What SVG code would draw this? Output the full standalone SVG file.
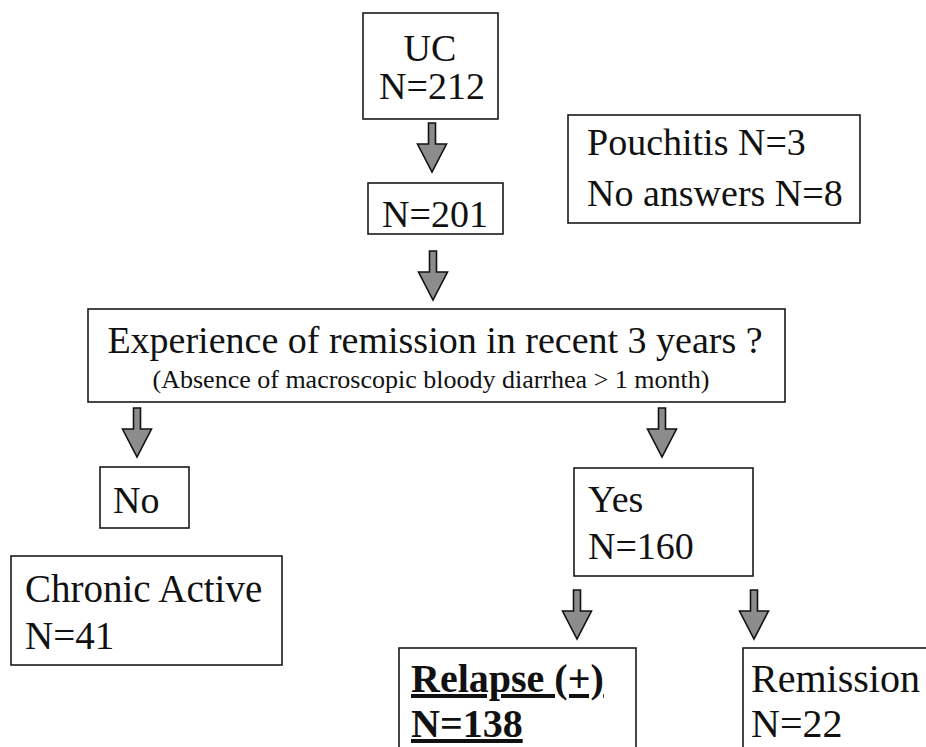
<svg xmlns="http://www.w3.org/2000/svg" width="926" height="747" viewBox="0 0 926 747">
<defs>
<style>
.box{fill:#fff;stroke:#1a1a1a;stroke-width:1.6}
.t{font-family:"Liberation Serif","Times New Roman",serif;font-size:38px;fill:#111}
.s{font-family:"Liberation Serif","Times New Roman",serif;font-size:26px;fill:#111}
.b{font-family:"Liberation Serif","Times New Roman",serif;font-size:40px;font-weight:bold;fill:#111;text-decoration:underline}
.arr{fill:#8c8c8c;stroke:#111;stroke-width:1.6;stroke-linejoin:miter}
</style>
<path id="blockArrow" class="arr" d="M-3.5,0 H3.5 V21 H14.5 L0,49 L-14.5,21 H-3.5 Z"/>
</defs>
<rect width="926" height="747" fill="#fff"/>

<g id="connectors">
<use href="#blockArrow" x="432" y="123"/>
<use href="#blockArrow" x="433" y="251"/>
<use href="#blockArrow" x="137" y="408"/>
<use href="#blockArrow" x="662" y="408"/>
<use href="#blockArrow" x="577" y="590"/>
<use href="#blockArrow" x="754" y="590"/>
</g>

<g id="node-uc">
<rect class="box" x="363" y="13" width="135" height="106"/>
<text class="t" x="430" y="61" text-anchor="middle">UC</text>
<text class="t" x="432" y="99" text-anchor="middle">N=212</text>
</g>

<g id="node-excluded">
<rect class="box" x="568" y="115" width="292" height="108"/>
<text class="t" x="587" y="155">Pouchitis N=3</text>
<text class="t" x="587" y="206">No answers N=8</text>
</g>

<g id="node-n201">
<rect class="box" x="368" y="183" width="135" height="51"/>
<text class="t" x="435" y="227" text-anchor="middle">N=201</text>
</g>

<g id="node-question">
<rect class="box" x="88" y="309" width="697" height="93"/>
<text class="t" x="435" y="353" text-anchor="middle">Experience of remission in recent 3 years ?</text>
<text class="s" x="431" y="388" text-anchor="middle">(Absence of macroscopic bloody diarrhea &gt; 1 month)</text>
</g>

<g id="node-no">
<rect class="box" x="100" y="467" width="89" height="61"/>
<text class="t" x="113" y="513">No</text>
</g>

<g id="node-chronic">
<rect class="box" x="11" y="556" width="271" height="109"/>
<text class="t" x="25" y="602" style="font-size:39px">Chronic Active</text>
<text class="t" x="25" y="649" style="font-size:39px">N=41</text>
</g>

<g id="node-yes">
<rect class="box" x="574" y="468" width="179" height="108"/>
<text class="t" x="588" y="512">Yes</text>
<text class="t" x="588" y="559">N=160</text>
</g>

<g id="node-relapse">
<rect class="box" x="399" y="648" width="237" height="110"/>
<text class="b" x="411" y="692">Relapse (+)</text>
<text class="b" x="411" y="737">N=138</text>
</g>

<g id="node-remission">
<rect class="box" x="743" y="648" width="200" height="110"/>
<text class="t" x="751" y="692" style="font-size:40px">Remission</text>
<text class="t" x="751" y="737" style="font-size:40px">N=22</text>
</g>
</svg>
